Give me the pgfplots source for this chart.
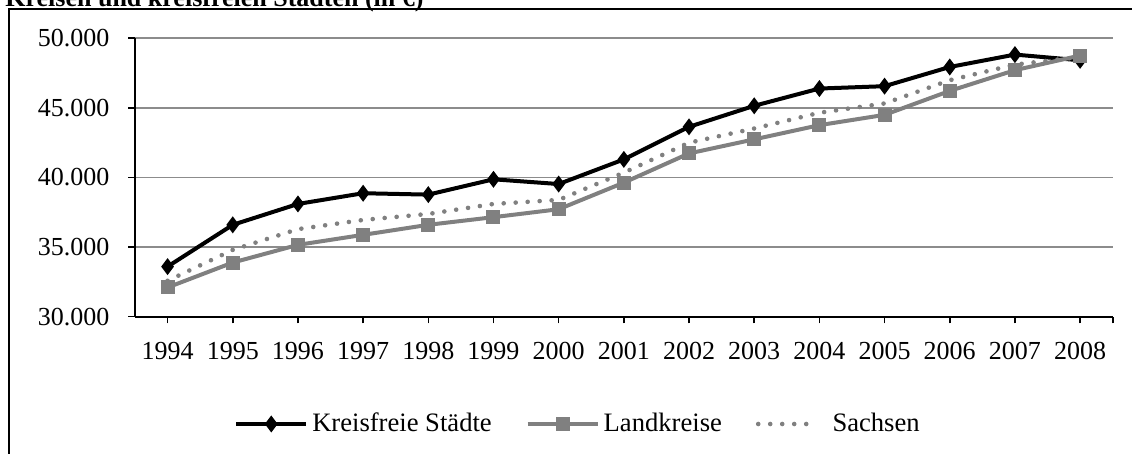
\documentclass[border=0pt]{standalone}
\usepackage{fontspec}
\setmainfont{Liberation Serif}
\usepackage{pgfplots}
\pgfplotsset{compat=1.18}
\definecolor{gline}{RGB}{128,128,128}
\definecolor{grd}{RGB}{140,140,140}
\pgfplotsset{
  mylinemark/.style={legend image code/.code={\draw[mark repeat=2,mark phase=2,##1] plot coordinates {(0pt,0pt) (17.5pt,0pt) (35pt,0pt)};}},
  mydot/.style={legend image code/.code={\draw[##1] (1pt,0pt) -- (31pt,0pt);}},
}
\begin{document}
\begin{tikzpicture}[font=\fontsize{13}{15}\selectfont]
\begin{axis}[
  scale only axis, width=488.85pt, height=139.2pt,
  at={(67.5pt,-158.35pt)}, anchor=south west,
  xmin=-0.5, xmax=14.5, ymin=30000, ymax=50000,
  xtick={0,...,14},
  xticklabels={1994,1995,1996,1997,1998,1999,2000,2001,2002,2003,2004,2005,2006,2007,2008},
  extra x ticks={14.5}, extra x tick labels={},
  ytick={30000,35000,40000,45000,50000},
  scaled y ticks=false,
  axis x line*=bottom, axis y line*=left,
  axis line style={line width=1pt,-},
  ymajorgrids, grid style={grd, line width=0.8pt},
  tick align=outside, major tick length=3.3pt,
  tick style={black, line width=0.8pt},
  xticklabel style={yshift=-6pt},
  yticklabel style={xshift=-6pt},
  /pgf/number format/assume math mode=true,
  /pgf/number format/.cd, fixed, 1000 sep={.}, min exponent for 1000 sep=4,
  /pgfplots/.cd,
  legend columns=-1,
  legend style={draw=none, fill=none, at={(0.4541,-0.3854)}, anchor=center,
    /tikz/every even column/.append style={column sep=15pt},
    font=\fontsize{13.3}{15}\selectfont},
]
\addplot[black, line width=2pt, mark=diamond*, mark size=2.6pt, mylinemark]
 coordinates {(0,33600) (1,36600) (2,38100) (3,38870) (4,38770) (5,39870) (6,39530) (7,41300) (8,43640) (9,45150) (10,46390) (11,46560) (12,47940) (13,48830) (14,48420)};
\addlegendentry{Kreisfreie Städte}
\addplot[gline, line width=2pt, mark=square*, mark size=2.5pt, mylinemark]
 coordinates {(0,32100) (1,33890) (2,35160) (3,35880) (4,36600) (5,37150) (6,37720) (7,39630) (8,41730) (9,42740) (10,43760) (11,44500) (12,46220) (13,47710) (14,48760)};
\addlegendentry{Landkreise}
\addplot[gline, line width=2.3pt, line cap=round, dash pattern=on 0pt off 6pt, mark=none, mydot]
 coordinates {(0,32580) (1,34800) (2,36290) (3,36950) (4,37380) (5,38100) (6,38390) (7,40350) (8,42500) (9,43520) (10,44650) (11,45320) (12,46990) (13,48110) (14,48660)};
\addlegendentry{\hspace*{4pt}Sachsen}
\end{axis}
\node[anchor=base west, font=\bfseries\fontsize{13}{15}\selectfont, inner sep=0pt] at (2.5pt,-3.25pt) {Kreisen und kreisfreien Städten (in €)};
\draw[line width=1pt] (4.25pt,-240pt) -- (4.25pt,-4.4pt) -- (600pt,-4.4pt);
\pgfresetboundingbox
\useasboundingbox (0pt,0pt) rectangle (566pt,-227pt);
\end{tikzpicture}
\end{document}
